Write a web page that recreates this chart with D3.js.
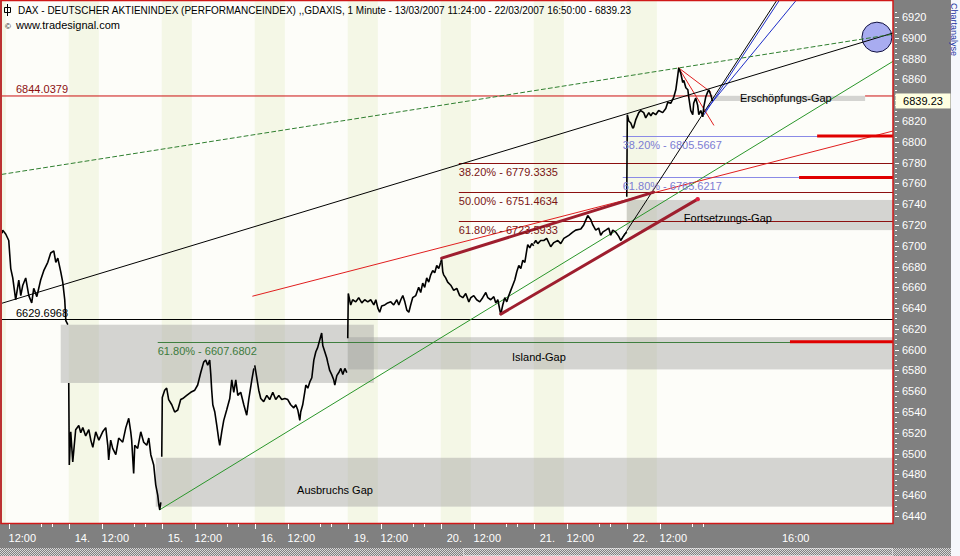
<!DOCTYPE html>
<html>
<head>
<meta charset="utf-8">
<script src="https://cdn.jsdelivr.net/npm/d3@7"></script>
<style>
  body { margin: 0; background: #ffffff; }
  svg { display: block; font-family: "Liberation Sans", Arial, sans-serif; font-size: 11px; }
</style>
</head>
<body>
<div id="chart"></div>
<script>
// trading sessions on the time axis (23 and 26 are the empty future sessions)
var sessions = ["13", "14", "15", "16", "19", "20", "21", "22", "23", "26"];

// 1 minute closes: [time, price]
var day13 = [["11:24", 6712], ["11:28", 6715], ["11:45", 6711], ["12:01", 6705], ["12:12", 6678], ["12:23", 6669], ["12:39", 6648], ["12:56", 6667], ["13:07", 6652], ["13:18", 6662], ["13:34", 6669], ["13:51", 6652], ["14:07", 6645], ["14:18", 6659], ["14:35", 6651], ["14:56", 6667], ["15:13", 6676], ["15:35", 6684], ["15:51", 6693], ["16:08", 6695], ["16:19", 6684], ["16:30", 6688], ["16:46", 6675], ["16:57", 6665], ["17:08", 6648], ["17:14", 6628], ["17:25", 6624]];
var day14 = [["09:00", 6568], ["09:03", 6489], ["09:11", 6521], ["09:22", 6492], ["09:38", 6523], ["09:55", 6527], ["10:06", 6520], ["10:17", 6525], ["10:33", 6517], ["10:50", 6523], ["11:01", 6513], ["11:12", 6506], ["11:28", 6521], ["11:45", 6513], ["12:06", 6521], ["12:23", 6525], ["12:34", 6508], ["12:39", 6494], ["12:50", 6513], ["13:01", 6505], ["13:18", 6499], ["13:34", 6515], ["13:56", 6511], ["14:13", 6525], ["14:29", 6534], ["14:40", 6521], ["14:45", 6513], ["14:56", 6481], ["15:02", 6508], ["15:18", 6505], ["15:35", 6521], ["15:51", 6511], ["16:08", 6508], ["16:19", 6515], ["16:30", 6499], ["16:46", 6489], ["16:57", 6470], ["17:08", 6460], ["17:14", 6451], ["17:19", 6446], ["17:25", 6453]];
var day15 = [["09:00", 6497], ["09:03", 6554], ["09:16", 6561], ["09:27", 6563], ["09:38", 6552], ["09:55", 6547], ["10:11", 6540], ["10:28", 6542], ["10:44", 6552], ["10:55", 6553], ["11:17", 6556], ["11:39", 6559], ["12:01", 6561], ["12:17", 6566], ["12:34", 6578], ["12:50", 6588], ["13:01", 6590], ["13:12", 6585], ["13:23", 6590], ["13:29", 6576], ["13:34", 6561], ["13:40", 6547], ["13:51", 6540], ["14:02", 6527], ["14:13", 6513], ["14:18", 6508], ["14:29", 6521], ["14:40", 6532], ["14:56", 6542], ["15:13", 6553], ["15:24", 6571], ["15:35", 6559], ["15:46", 6571], ["15:57", 6556], ["16:13", 6559], ["16:30", 6547], ["16:41", 6540], ["16:46", 6537], ["16:57", 6552], ["17:14", 6571], ["17:25", 6582]];
var day16 = [["09:00", 6585], ["09:11", 6573], ["09:22", 6561], ["09:33", 6553], ["09:49", 6550], ["10:06", 6556], ["10:22", 6552], ["10:39", 6559], ["10:55", 6552], ["11:12", 6556], ["11:28", 6552], ["11:45", 6553], ["12:01", 6552], ["12:17", 6547], ["12:34", 6544], ["12:45", 6547], ["12:56", 6542], ["13:07", 6532], ["13:12", 6540], ["13:23", 6547], ["13:34", 6559], ["13:40", 6566], ["13:51", 6563], ["14:02", 6569], ["14:13", 6573], ["14:24", 6590], ["14:35", 6598], ["14:45", 6602], ["14:56", 6609], ["15:07", 6616], ["15:13", 6604], ["15:24", 6598], ["15:35", 6592], ["15:40", 6588], ["15:51", 6580], ["16:02", 6576], ["16:13", 6571], ["16:19", 6566], ["16:30", 6575], ["16:41", 6578], ["16:52", 6582], ["17:03", 6576], ["17:14", 6582], ["17:25", 6578]];
var day19 = [["09:00", 6611], ["09:03", 6654], ["09:16", 6643], ["09:27", 6648], ["09:44", 6646], ["10:00", 6650], ["10:17", 6645], ["10:33", 6648], ["10:50", 6646], ["11:06", 6648], ["11:23", 6643], ["11:34", 6648], ["11:45", 6640], ["11:55", 6636], ["12:06", 6642], ["12:23", 6643], ["12:39", 6645], ["12:56", 6646], ["13:12", 6643], ["13:29", 6648], ["13:40", 6643], ["13:51", 6648], ["14:02", 6652], ["14:13", 6646], ["14:24", 6638], ["14:35", 6636], ["14:45", 6643], ["14:56", 6650], ["15:13", 6652], ["15:29", 6660], ["15:40", 6655], ["15:51", 6664], ["16:02", 6660], ["16:13", 6669], ["16:24", 6665], ["16:35", 6672], ["16:46", 6676], ["16:57", 6674], ["17:08", 6681], ["17:19", 6678], ["17:30", 6684]];
var day20 = [["09:00", 6684], ["09:05", 6687], ["09:11", 6675], ["09:16", 6672], ["09:27", 6669], ["09:38", 6665], ["09:55", 6662], ["10:11", 6657], ["10:28", 6659], ["10:44", 6652], ["11:01", 6650], ["11:17", 6654], ["11:34", 6646], ["11:45", 6650], ["12:01", 6652], ["12:17", 6648], ["12:34", 6646], ["12:50", 6650], ["13:07", 6655], ["13:18", 6650], ["13:34", 6648], ["13:51", 6651], ["14:02", 6645], ["14:13", 6648], ["14:24", 6638], ["14:29", 6634], ["14:40", 6643], ["14:51", 6650], ["15:02", 6646], ["15:13", 6652], ["15:24", 6657], ["15:35", 6662], ["15:46", 6667], ["15:57", 6675], ["16:08", 6681], ["16:19", 6678], ["16:30", 6686], ["16:41", 6684], ["16:52", 6696], ["16:57", 6701], ["17:08", 6698], ["17:19", 6702], ["17:30", 6700]];
var day21 = [["09:00", 6702], ["09:11", 6705], ["09:22", 6702], ["09:38", 6705], ["09:55", 6705], ["10:11", 6707], ["10:33", 6699], ["10:50", 6703], ["11:12", 6705], ["11:28", 6702], ["11:45", 6707], ["12:12", 6710], ["12:34", 6713], ["12:50", 6715], ["13:18", 6716], ["13:34", 6720], ["13:56", 6729], ["14:13", 6725], ["14:24", 6720], ["14:40", 6715], ["14:56", 6717], ["15:07", 6710], ["15:18", 6713], ["15:35", 6715], ["15:51", 6717], ["16:02", 6710], ["16:13", 6715], ["16:30", 6713], ["16:46", 6709], ["16:57", 6705], ["17:08", 6708], ["17:19", 6711], ["17:30", 6713]];
var day22 = [["09:00", 6747], ["09:03", 6826], ["09:11", 6820], ["09:22", 6818], ["09:33", 6813], ["09:38", 6814], ["09:49", 6821], ["10:06", 6828], ["10:17", 6830], ["10:33", 6828], ["10:44", 6823], ["11:01", 6828], ["11:12", 6825], ["11:23", 6828], ["11:39", 6826], ["11:55", 6830], ["12:17", 6828], ["12:34", 6832], ["12:45", 6838], ["13:01", 6837], ["13:18", 6843], ["13:29", 6850], ["13:40", 6864], ["13:45", 6871], ["13:56", 6866], ["14:07", 6857], ["14:13", 6859], ["14:24", 6852], ["14:35", 6850], ["14:40", 6843], ["14:51", 6830], ["15:02", 6826], ["15:07", 6837], ["15:18", 6842], ["15:29", 6835], ["15:35", 6826], ["15:46", 6830], ["15:57", 6824], ["16:02", 6833], ["16:13", 6843], ["16:24", 6848], ["16:30", 6850], ["16:41", 6845], ["16:50", 6839.23]];
var priceDays = [["13", day13], ["14", day14], ["15", day15], ["16", day16], ["19", day19], ["20", day20], ["21", day21], ["22", day22]];

var lastPrice = 6839.23;
var levelClose = 6844.0379;
var levelSupport = 6629.6968;

// Fibonacci retracements
var fibRedLevels = [6779.3335, 6751.4634, 6723.5933];
var fibRedPct = ["38.20%", "50.00%", "61.80%"];
var fibRedStart = "20 10:39";
var fibBlueLevels = [6805.5667, 6765.6217];
var fibBluePct = ["38.20%", "61.80%"];
var fibBlueStart = "21 17:08";
var fibGreenLevels = [6607.6802];
var fibGreenPct = ["61.80%"];
var fibGreenStart = "14 17:08";

// short red markers at the right end of some levels
var markLevels = [6805.5667, 6765.6217, 6607.6802];
var markStarts = ["26 09:24", "23 16:15", "23 15:25"];

// gaps: [from, to (null = right edge), low, high]
var gapBoxes = [
  ["13 16:46", "19 11:23", 6568, 6624],
  ["19 09:00", null, 6581, 6612],
  ["14 16:57", null, 6449, 6496],
  ["22 09:00", null, 6715, 6744],
  ["22 16:50", "26 13:47", 6839.2, 6844.2]
];
var gapLabels = [["Island-Gap", "20 15:31", 6589], ["Ausbruchs Gap", "16 12:52", 6461], ["Fortsetzungs-Gap", "22 14:13", 6722.7], ["Erschöpfungs-Gap", "23 10:51", 6838]];

// trend lines: [time1, price1, time2, price2, extend]
var blackTrends = [["13 13:51", 6652.5, "22 09:05", 6827.2, "both"], ["21 16:57", 6705.4, "22 16:13", 6831, "right"]];
var greenDashed = [["13 13:51", 6772.7, "22 13:45", 6871, "both"]];
var greenTrends = [["14 17:19", 6446, "21 15:07", 6705.4, "right"]];
var redTrends = [["15 17:19", 6651.5, "21 13:56", 6734.6, "right"], ["22 13:45", 6871, "22 16:41", 6847.7, "none"], ["22 13:45", 6871, "22 16:57", 6816, "none"]];
var blueTrends = [["22 16:02", 6825.6, "23 10:57", 6880.2, "right"], ["22 16:13", 6830.4, "23 10:57", 6871.7, "right"]];
var channelLines = [["20 09:05", 6688, "22 11:28", 6751.5, "none"], ["20 14:29", 6634.2, "22 15:29", 6744.8, "none"]];
var target = ["26 14:52", 6900.6];

// axis ticks
var yTicks = d3.range(6440, 6921, 20);
var xTickTimes = ["13 12:00", "14 09:00", "14 12:00", "15 09:00", "15 12:00", "16 09:00", "16 12:00", "19 09:00", "19 12:00", "20 09:00", "20 12:00", "21 09:00", "21 12:00", "22 09:00", "22 12:00", "23 14:41"];
var xTickLabels = ["12:00", "14.", "12:00", "15.", "12:00", "16.", "12:00", "19.", "12:00", "20.", "12:00", "21.", "12:00", "22.", "12:00", "16:00"];

var title = "DAX  - DEUTSCHER AKTIENINDEX (PERFORMANCEINDEX) ,,GDAXIS, 1 Minute - 13/03/2007 11:24:00 - 22/03/2007 16:50:00 - 6839.23";

// session position: day index + fraction of the 09:00-17:30 session
function pos(t) {
  var p = t.split(" "), hm = p[1].split(":");
  return sessions.indexOf(p[0]) + (+hm[0] * 60 + +hm[1] - 540) / 510;
}

var plot = {left: 2, right: 893, top: 1, bottom: 523};

var svg = d3.select("#chart").append("svg")
  .attr("width", 960)
  .attr("height", 556);

var x = d3.scaleLinear().domain([pos("13 11:24"), pos("26 16:20")]).range([plot.left, plot.right]);
var y = d3.scaleLinear().domain([6440, 6920]).range([516, 17]);

var defs = svg.append("defs");
defs.append("clipPath").attr("id", "clip")
  .append("rect")
  .attr("x", plot.left).attr("y", plot.top)
  .attr("width", plot.right - plot.left).attr("height", plot.bottom - plot.top);
var dither = defs.append("pattern").attr("id", "dither")
  .attr("width", 2).attr("height", 2).attr("patternUnits", "userSpaceOnUse");
dither.append("rect").attr("width", 2).attr("height", 2).attr("fill", "#808080");
dither.append("rect").attr("width", 1).attr("height", 1).attr("fill", "#d8d8d8");
dither.append("rect").attr("x", 1).attr("y", 1).attr("width", 1).attr("height", 1).attr("fill", "#d8d8d8");

// grey frame and plot background
svg.append("rect").attr("width", 960).attr("height", 556).attr("fill", "#808080");
svg.append("rect").attr("x", 0).attr("y", 548).attr("width", 951).attr("height", 8).attr("fill", "url(#dither)");
svg.append("rect").attr("x", 463.5).attr("y", 548.5).attr("width", 429).attr("height", 7)
  .attr("fill", "none").attr("stroke", "#ffffff").attr("stroke-dasharray", "1,1");
svg.append("rect").attr("x", 951).attr("y", 0).attr("width", 9).attr("height", 556).attr("fill", "#f6f7fb");
svg.append("text")
  .attr("transform", "translate(951,3) rotate(90)")
  .attr("fill", "#2030a0")
  .attr("font-size", 9)
  .text("Chartanalyse");

svg.append("rect")
  .attr("x", plot.left).attr("y", plot.top)
  .attr("width", plot.right - plot.left).attr("height", plot.bottom - plot.top)
  .attr("fill", "#fdfdf9");

var chartGroup = svg.append("g").attr("clip-path", "url(#clip)");

// morning session bands
chartGroup.selectAll("rect.band")
  .data(sessions.slice(0, 8))
  .enter()
  .append("rect")
  .attr("class", "band")
  .attr("x", d => x(pos(d + " 09:00")))
  .attr("y", plot.top)
  .attr("width", d => x(pos(d + " 11:45")) - x(pos(d + " 09:00")))
  .attr("height", plot.bottom - plot.top)
  .attr("fill", "#f4f7e6");

// level of the last close, interrupted by the exhaustion gap bar
var exh = gapBoxes[4];
chartGroup.append("line")
  .attr("x1", plot.left).attr("x2", x(pos(exh[0])))
  .attr("y1", y(levelClose)).attr("y2", y(levelClose))
  .attr("stroke", "#cc1010");
chartGroup.append("line")
  .attr("x1", x(pos(exh[1]))).attr("x2", plot.right)
  .attr("y1", y(levelClose)).attr("y2", y(levelClose))
  .attr("stroke", "#cc1010");

// gap boxes
chartGroup.selectAll("rect.gap")
  .data(gapBoxes)
  .enter()
  .append("rect")
  .attr("class", "gap")
  .attr("x", d => x(pos(d[0])))
  .attr("y", d => y(d[3]))
  .attr("width", d => (d[1] ? x(pos(d[1])) : plot.right) - x(pos(d[0])))
  .attr("height", d => y(d[2]) - y(d[3]))
  .attr("fill", "#9a9a9a")
  .attr("fill-opacity", 0.42);

// horizontal levels
function level(value, start, color) {
  chartGroup.append("line")
    .attr("x1", start ? x(pos(start)) : plot.left).attr("x2", plot.right)
    .attr("y1", Math.round(y(value)) + 0.5).attr("y2", Math.round(y(value)) + 0.5)
    .attr("stroke", color);
}
level(levelSupport, null, "#000000");
fibRedLevels.forEach(v => level(v, fibRedStart, "#8c1010"));
fibBlueLevels.forEach(v => level(v, fibBlueStart, "#8a8ae6"));
fibGreenLevels.forEach(v => level(v, fibGreenStart, "#3f7f3f"));

// trend lines, optionally extended to the plot edges
function trend(list, color, width, dash) {
  list.forEach(function(d) {
    var x1 = x(pos(d[0])), y1 = y(d[1]), x2 = x(pos(d[2])), y2 = y(d[3]);
    var slope = (y2 - y1) / (x2 - x1);
    if (d[4] === "both") { y1 = y1 + (plot.left - x1) * slope; x1 = plot.left; }
    if (d[4] !== "none") { y2 = y2 + (plot.right - x2) * slope; x2 = plot.right; }
    chartGroup.append("line")
      .attr("x1", x1).attr("y1", y1).attr("x2", x2).attr("y2", y2)
      .attr("stroke", color)
      .attr("stroke-width", width)
      .attr("stroke-dasharray", dash)
      .attr("stroke-linecap", "round");
  });
}
trend(greenTrends, "#2a962a", 1, null);
trend(redTrends, "#e01e1e", 1, null);
trend(blackTrends.slice(1), "#000000", 1, null);
trend(blueTrends, "#1c2cc8", 1, null);

// price
var priceLine = d3.line()
  .x(d => x(d.p))
  .y(d => y(d.v));
priceDays.forEach(function(day) {
  var pts = day[1].map(d => ({p: pos(day[0] + " " + d[0]), v: d[1]}));
  chartGroup.append("path")
    .attr("d", priceLine(pts))
    .attr("fill", "none")
    .attr("stroke", "#000000")
    .attr("stroke-width", 1.6)
    .attr("stroke-linejoin", "bevel");
});

// thick channel lines and markers
trend(channelLines, "#9e1e2e", 3, null);
var ch = channelLines[1];
chartGroup.append("circle")
  .attr("cx", x(pos(ch[2]))).attr("cy", y(ch[3])).attr("r", 2.2)
  .attr("fill", "#e02040");
markLevels.forEach(function(v, i) {
  chartGroup.append("line")
    .attr("x1", x(pos(markStarts[i]))).attr("x2", plot.right)
    .attr("y1", y(v)).attr("y2", y(v))
    .attr("stroke", "#e00000")
    .attr("stroke-width", 3);
});
chartGroup.append("circle")
  .attr("cx", x(pos(target[0]))).attr("cy", y(target[1])).attr("r", 15)
  .attr("fill", "#a8acf0")
  .attr("stroke", "#101040");
trend(blackTrends.slice(0, 1), "#000000", 1, null);
trend(greenDashed, "#2f7f2f", 1, "4,3");

// labels
var fmt = d3.format(".4f");
function levelLabel(text, xpos, ypos, color) {
  chartGroup.append("text")
    .attr("x", xpos).attr("y", ypos)
    .attr("fill", color)
    .text(text);
}
levelLabel(fmt(levelClose), 16, y(levelClose) - 3, "#8c1010");
levelLabel(fmt(levelSupport), 16, y(levelSupport) - 2, "#000000");
fibRedLevels.forEach((v, i) => levelLabel(fibRedPct[i] + " - " + fmt(v), x(pos(fibRedStart)), y(v) + 13, "#7a1414"));
fibBlueLevels.forEach((v, i) => levelLabel(fibBluePct[i] + " - " + fmt(v), x(pos(fibBlueStart)), y(v) + 13, "#7c7cd4"));
fibGreenLevels.forEach((v, i) => levelLabel(fibGreenPct[i] + " - " + fmt(v), x(pos(fibGreenStart)), y(v) + 13, "#3c7a3c"));
gapLabels.forEach(d => levelLabel(d[0], x(pos(d[1])), y(d[2]), "#000000"));

// title
svg.append("path")
  .attr("d", "M4.5,7.5h6v5h-6z M7.5,4v12")
  .attr("fill", "none").attr("stroke", "#000000");
svg.append("text").attr("x", 18).attr("y", 14).attr("fill", "#000000")
  .attr("textLength", 613).attr("lengthAdjust", "spacingAndGlyphs")
  .text(title);
svg.append("text").attr("x", 5).attr("y", 29).attr("fill", "#000000").attr("font-size", 8).text("©");
svg.append("text").attr("x", 16).attr("y", 29).attr("fill", "#000000").text("www.tradesignal.com");

// red frame of the plot
svg.append("rect")
  .attr("x", 1).attr("y", 0.5)
  .attr("width", plot.right - 1).attr("height", plot.bottom)
  .attr("fill", "none")
  .attr("stroke", "#d01818")
  .attr("stroke-width", 1.5);

// right axis (the label under the last price tag is hidden)
var yAxis = svg.append("g");
yAxis.selectAll("line.minor")
  .data(d3.range(6440, 6926, 5))
  .enter()
  .append("line")
  .attr("x1", 895).attr("x2", d => d % 20 === 0 ? 899 : 897)
  .attr("y1", d => Math.round(y(d)) + 0.5).attr("y2", d => Math.round(y(d)) + 0.5)
  .attr("stroke", "#ffffff");
yAxis.selectAll("text")
  .data(yTicks.filter(d => Math.abs(y(d) - y(lastPrice)) > 10))
  .enter()
  .append("text")
  .attr("x", 902)
  .attr("y", d => y(d) + 4)
  .attr("fill", "#ffffff")
  .text(d => d);
svg.append("rect")
  .attr("x", 895.5).attr("y", y(lastPrice) - 7.5)
  .attr("width", 55).attr("height", 15)
  .attr("fill", "#ffffe1");
svg.append("text")
  .attr("x", 923).attr("y", y(lastPrice) + 4)
  .attr("text-anchor", "middle")
  .attr("fill", "#000000")
  .text(d3.format(".2f")(lastPrice));

// time axis
var minorTimes = [];
sessions.slice(0, 8).forEach(d => { minorTimes.push(d + " 15:00"); minorTimes.push(d + " 16:00"); });
svg.selectAll("line.xminor")
  .data(minorTimes)
  .enter()
  .append("line")
  .attr("x1", d => Math.round(x(pos(d))) + 0.5).attr("x2", d => Math.round(x(pos(d))) + 0.5)
  .attr("y1", 524).attr("y2", 527)
  .attr("stroke", "#ffffff");
svg.selectAll("line.xmajor")
  .data(xTickTimes.slice(0, 15))
  .enter()
  .append("line")
  .attr("x1", d => Math.round(x(pos(d))) + 0.5).attr("x2", d => Math.round(x(pos(d))) + 0.5)
  .attr("y1", 524).attr("y2", 529)
  .attr("stroke", "#ffffff");
svg.selectAll("text.xlab")
  .data(xTickTimes)
  .enter()
  .append("text")
  .attr("x", (d, i) => x(pos(d)) + (xTickLabels[i].length === 3 ? 6 : 0))
  .attr("y", 542)
  .attr("fill", "#ffffff")
  .text((d, i) => xTickLabels[i]);
</script>
</body>
</html>
